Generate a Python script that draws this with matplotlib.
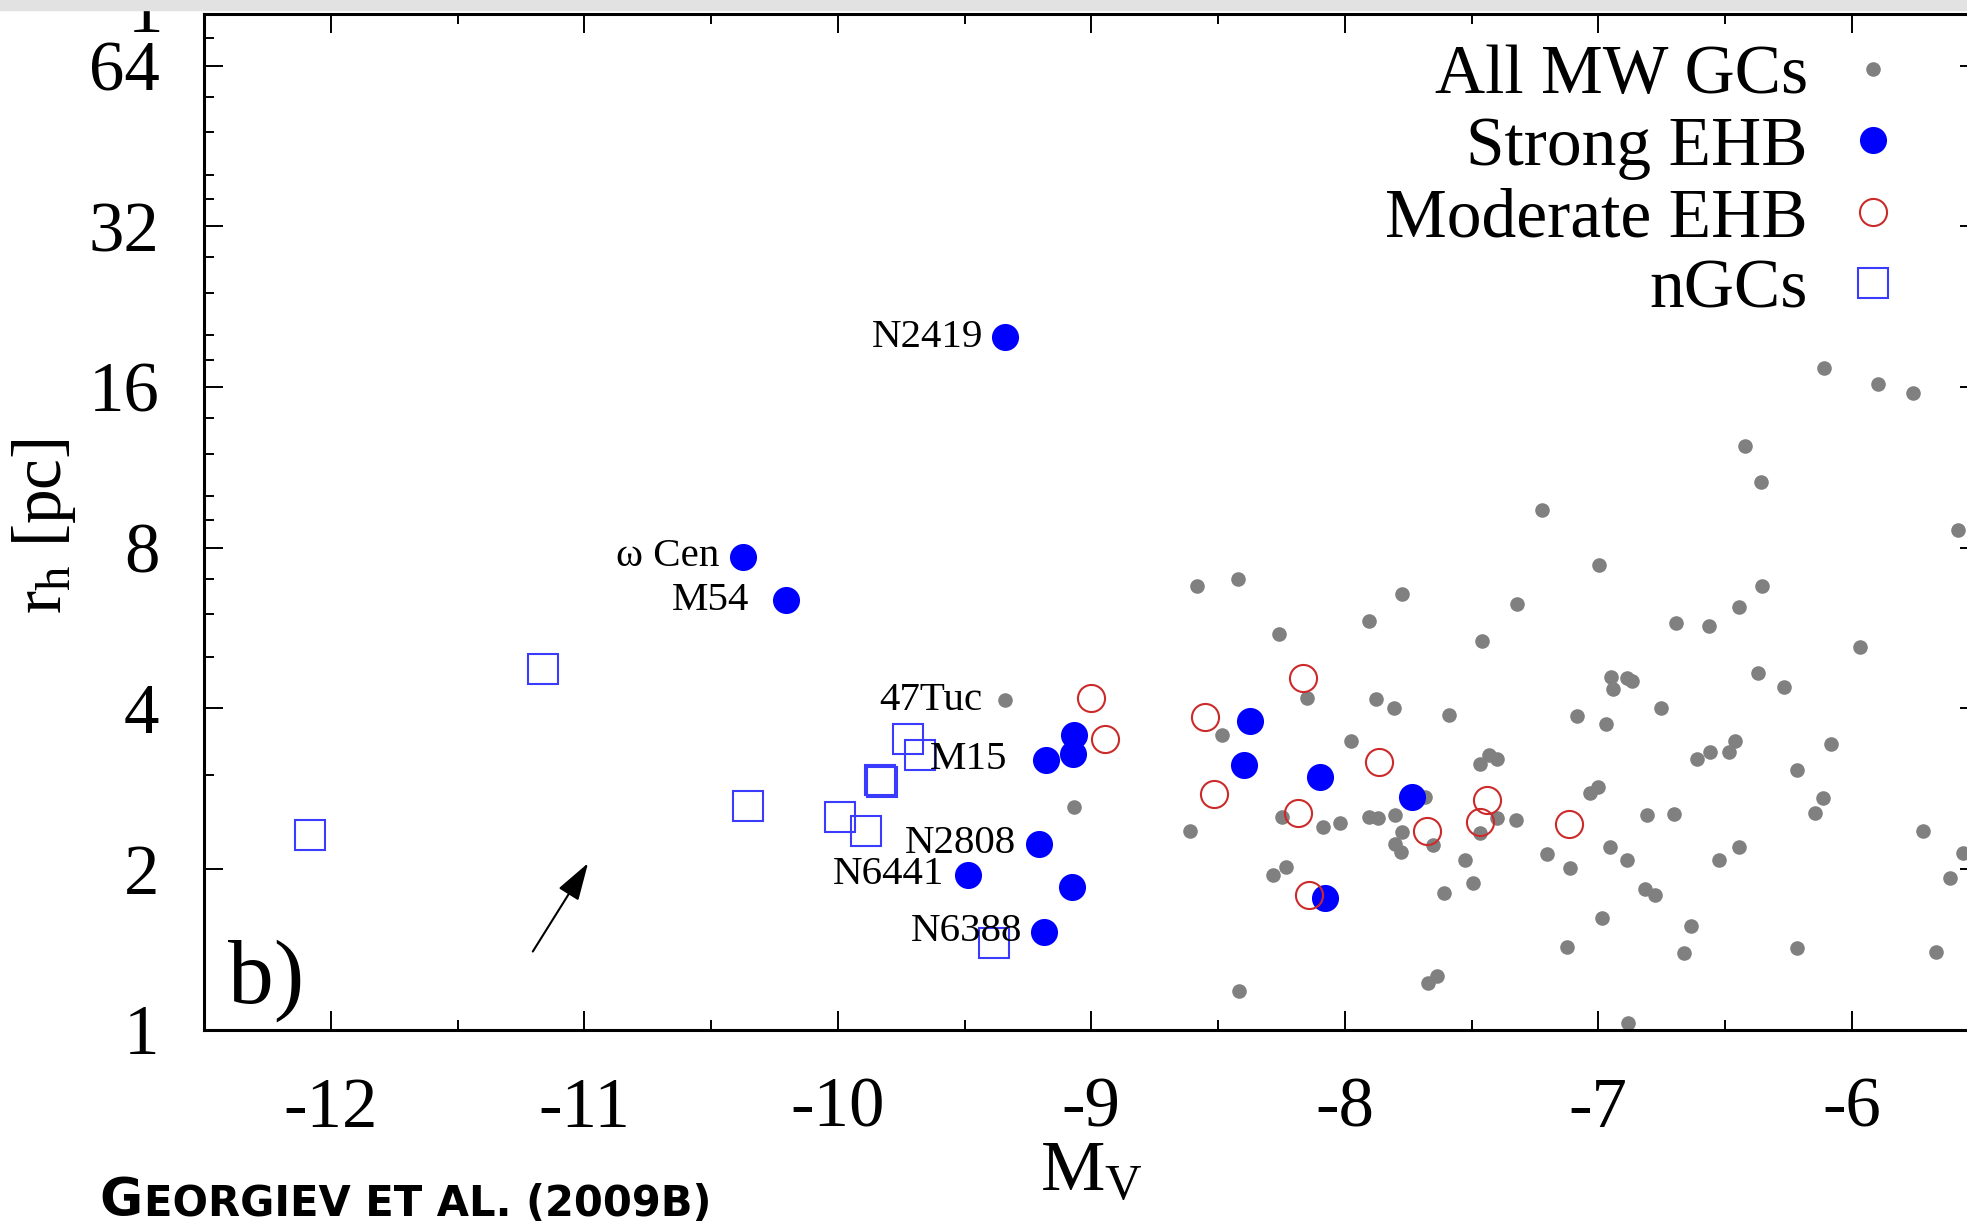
import matplotlib
matplotlib.use("Agg")
import matplotlib.pyplot as plt
from matplotlib.patches import Rectangle
from matplotlib.ticker import FixedLocator, FixedFormatter, NullFormatter, MultipleLocator

# ---- data (M_V, r_h [pc]) ----
# All Milky Way GCs (grey dots); first one is 47Tuc
all_mv = [-9.34, -8.584, -8.422, -8.26, -9.067, -8.609, -8.486, -8.284, -8.23, -8.416,
          -8.249, -6.111, -5.895, -5.757, -6.423, -6.357, -7.221, -5.579, -6.997, -7.775,
          -7.319, -7.906, -6.354, -6.446, -6.695, -6.562, -7.459, -5.969, -6.951, -6.885,
          -6.866, -6.94, -6.369, -6.267, -6.754, -7.082, -6.968, -7.59, -7.878, -7.804,
          -8.148, -7.974, -6.08, -6.61, -6.56, -6.484, -6.462, -7.465, -7.432, -7.4,
          -6.215, -7.034, -7.001, -6.113, -6.145, -6.807, -6.702, -5.72, -5.611, -5.666,
          -6.215, -6.663, -6.636, -7.123, -6.985, -6.815, -6.778, -6.446, -6.523, -6.888,
          -6.953, -7.112, -7.203, -7.323, -7.4, -7.524, -7.493, -7.61, -7.65, -7.78,
          -7.802, -7.774, -7.802, -7.906, -7.867, -8.02, -8.085, -7.672, -7.635, -6.882,
          -7.684, -7.465, -5.56]
all_rh = [4.14, 6.77, 6.98, 5.52, 2.61, 2.35, 3.56, 1.95, 2.02, 1.18,
          2.50, 17.37, 16.24, 15.6, 12.4, 10.6, 9.40, 8.62, 7.41, 6.56,
          6.28, 5.82, 6.78, 6.19, 5.77, 5.70, 5.34, 5.21, 4.58, 4.55,
          4.49, 4.34, 4.65, 4.39, 4.01, 3.87, 3.73, 3.88, 4.16, 4.00,
          4.18, 3.47, 3.43, 3.21, 3.31, 3.31, 3.48, 3.15, 3.27, 3.22,
          3.06, 2.77, 2.85, 2.71, 2.54, 2.52, 2.53, 2.35, 1.92, 1.40,
          1.42, 1.39, 1.56, 1.43, 1.62, 1.83, 1.79, 2.20, 2.08, 2.08,
          2.20, 2.01, 2.13, 2.47, 2.49, 2.08, 1.88, 1.80, 2.22, 2.15,
          2.23, 2.34, 2.52, 2.50, 2.49, 2.44, 2.40, 1.22, 1.26, 1.03,
          2.73, 2.33, 2.14]

# Strong EHB (filled blue)
strong_mv = [-9.34, -10.374, -10.203, -9.067, -9.073, -9.177, -8.373, -8.398,
             -9.208, -9.485, -9.076, -9.186, -8.096, -7.734, -8.077]
strong_rh = [19.85, 7.69, 6.38, 3.56, 3.29, 3.20, 3.79, 3.13,
             2.23, 1.95, 1.85, 1.525, 2.97, 2.73, 1.76]

# Moderate EHB (open red)
moderate_mv = [-9.0, -8.946, -8.551, -8.515, -8.163, -7.866, -7.439, -7.465,
               -7.675, -7.116, -8.186, -8.142]
moderate_rh = [4.18, 3.51, 3.85, 2.76, 4.56, 3.17, 2.69, 2.45,
               2.36, 2.43, 2.54, 1.79]

# nuclear GCs (open blue squares)
ngc_mv = [-12.08, -11.161, -10.353, -9.992, -9.89, -9.833, -9.825, -9.722, -9.675, -9.385]
ngc_rh = [2.31, 4.74, 2.62, 2.50, 2.35, 2.93, 2.91, 3.51, 3.27, 1.45]

# labelled clusters: (name, series, index)
label_names = ["N2419", "\u03c9 Cen", "M54", "47Tuc", "M15", "N2808", "N6441", "N6388"]
label_series = ["strong", "strong", "strong", "all", "strong", "strong", "strong", "strong"]
label_index = [0, 1, 2, 0, 5, 8, 9, 11]
label_offset = [-16, -17, -27, -16, -28, -16, -17, -16]

y_major = [1, 2, 4, 8, 16, 32, 64]
y_minor = [3, 5, 6, 7, 9, 10, 12, 14, 18, 20, 24, 28, 36, 40, 48, 56, 72]

# arrow (data coordinates)
arrow_start = (-11.203, 1.40)
arrow_end = (-10.985, 2.05)

plt.rcParams['font.family'] = ['Liberation Serif', 'DejaVu Serif']
plt.rcParams['mathtext.fontset'] = 'custom'
plt.rcParams['mathtext.rm'] = 'Liberation Serif'
plt.rcParams['mathtext.it'] = 'Liberation Serif:italic'
plt.rcParams['axes.unicode_minus'] = False

W, H = 1967, 1227
fig = plt.figure(figsize=(W / 100, H / 100), dpi=100)
ax = fig.add_axes([204 / W, (H - 1029.5) / H, (1978.5 - 204) / W, (1029.5 - 14) / H])

ax.plot(all_mv, all_rh, 'o', ls='none', ms=10.5, color='#808080', mec='none',
        label='All MW GCs', zorder=2)
ax.plot(ngc_mv, ngc_rh, 's', ls='none', ms=22, mfc='none', mec='#3b3bff', mew=1.5,
        label='nGCs', zorder=3)
ax.plot(strong_mv, strong_rh, 'o', ls='none', ms=19.5, color='#0000ff', mec='none',
        label='Strong EHB', zorder=4)
ax.plot(moderate_mv, moderate_rh, 'o', ls='none', ms=19.5, mfc='none', mec='#cc2a2a',
        mew=1.5, label='Moderate EHB', zorder=5)

series = {"all": (all_mv, all_rh), "strong": (strong_mv, strong_rh)}
for name, s, i, off in zip(label_names, label_series, label_index, label_offset):
    xs, ys = series[s]
    ax.annotate(name, xy=(xs[i], ys[i]), xytext=(off, 0), textcoords='offset points',
                ha='right', va='center', fontsize=29.5, zorder=6)

ax.annotate('', xy=arrow_end, xytext=arrow_start,
            arrowprops=dict(arrowstyle='-|>,head_length=0.8,head_width=0.25',
                            color='black', lw=1.5, mutation_scale=29,
                            shrinkA=0, shrinkB=0))

ax.set_xlim(-12.5, -5.5)
ax.set_yscale('log', base=2)
ax.set_ylim(1, 80)
ax.xaxis.set_major_locator(FixedLocator([-12, -11, -10, -9, -8, -7, -6]))
ax.xaxis.set_minor_locator(MultipleLocator(0.5))
ax.yaxis.set_major_locator(FixedLocator(y_major))
ax.yaxis.set_major_formatter(FixedFormatter([str(v) for v in y_major]))
ax.yaxis.set_minor_locator(FixedLocator(y_minor))
ax.yaxis.set_minor_formatter(NullFormatter())

ax.tick_params(which='both', direction='in', top=True, right=True, width=1.4, colors='black')
ax.tick_params(which='major', length=13.5)
ax.tick_params(which='minor', length=7)
ax.tick_params(axis='x', labelsize=51, pad=34)
ax.tick_params(axis='y', labelsize=51, pad=32)
for sp in ax.spines.values():
    sp.set_linewidth(2.2)

# legend, markers on the right
h, l = ax.get_legend_handles_labels()
order = [0, 2, 3, 1]
ax.legend([h[k] for k in order], [l[k] for k in order], loc='upper right',
          bbox_to_anchor=(0.9524, 0.970), markerfirst=False, frameon=False,
          fontsize=50, handlelength=0.6, handletextpad=0.64, labelspacing=0.114,
          borderpad=0, borderaxespad=0, numpoints=1)

fig.text(1091 / W, 1 - 1190 / H, r'$\mathrm{M}_\mathrm{V}$', ha='center', va='baseline',
         fontsize=52)
fig.text(44 / W, 1 - 526 / H, r'$\mathrm{r}_\mathrm{h}$ [pc]', ha='center', va='center',
         rotation=90, fontsize=50)
fig.text(228 / W, 1 - 1003 / H, 'b)', ha='left', va='baseline', fontsize=66)

# source caption in small caps style
g = fig.text(99 / W, 1 - 1216 / H, 'G', ha='left', va='baseline', fontsize=38,
             family='DejaVu Sans', weight='bold')
fig.canvas.draw()
bb = g.get_window_extent()
fig.text(bb.x1 / W + 0.001, 1 - 1216 / H, 'EORGIEV ET AL. (2009B)', ha='left',
         va='baseline', fontsize=30, family='DejaVu Sans', weight='bold')

# screenshot strip at the top
fig.text(145 / W, 1 - 32 / H, '1', ha='center', va='baseline', fontsize=51, zorder=1)
fig.add_artist(Rectangle((0, 1 - 10 / H), 1, 10 / H, transform=fig.transFigure,
                         color='#e2e2e2', zorder=10))

fig.savefig('out.png', dpi=100)
